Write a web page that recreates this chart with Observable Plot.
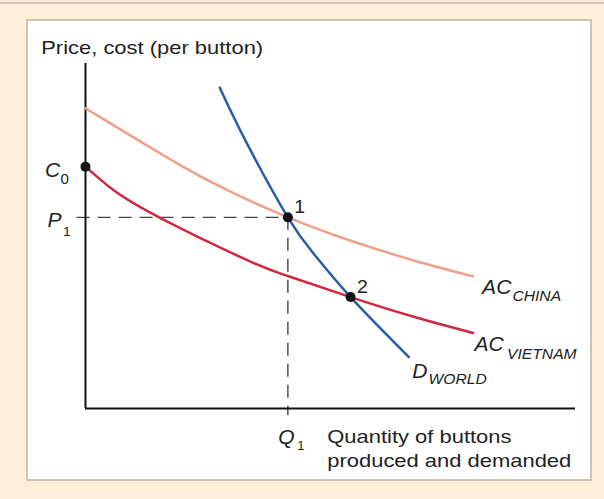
<!DOCTYPE html>
<html><head><meta charset="utf-8">
<script src="https://cdn.jsdelivr.net/npm/d3@7"></script>
<script src="https://cdn.jsdelivr.net/npm/@observablehq/plot@0.6"></script>
<style>
html,body{margin:0;padding:0;background:#fdefd9;}
#wrap{position:relative;width:604px;height:499px;overflow:hidden;}
#topline{position:absolute;left:0;top:2px;width:604px;height:2px;background:#cdc7bc;}
#panel{position:absolute;left:26px;top:19px;width:566px;height:462px;box-sizing:border-box;border:2px solid #cbc5b9;background:#fff;}
#chart{position:absolute;left:0;top:0;}
</style></head><body>
<div id="wrap"><div id="topline"></div><div id="panel"></div><div id="chart"></div></div>
<script>
// Curves (quantity, price/cost), in arbitrary 0–100 units
const chinaX   = [0, 12.6, 26.1, 41.3, 53.4, 67.0, 79.1];
const chinaY   = [87.0, 76.2, 65.3, 55.4, 49.0, 42.9, 38.3];
const vietnamX = [0, 5.7, 15.3, 33.0, 41.3, 54.1, 67.0, 79.1];
const vietnamY = [70.1, 63.3, 55.2, 43.0, 38.4, 32.3, 26.6, 21.9];
const demandX  = [27.4, 33.0, 41.3, 46.6, 54.1, 66.0];
const demandY  = [93.0, 76.7, 55.4, 44.8, 32.3, 14.9];
const pointNames = ["1", "2"];
const pointX = [41.3, 54.1];
const pointY = [55.4, 32.3];
const curveNames = ["AC", "AC", "D"];
const curveSubs = ["CHINA", "VIETNAM", "WORLD"];
const titleText = "Price, cost (per button)";
const xLabelText = "Quantity of buttons\nproduced and demanded";

const C0 = vietnamY[0], P1 = pointY[0], Q1 = pointX[0];
const pts = pointNames.map((n, i) => ({name: n, x: pointX[i], y: pointY[i]}));
const series = (X, Y) => X.map((x, i) => ({x, y: Y[i]}));
const china = series(chinaX, chinaY), vietnam = series(vietnamX, vietnamY), demand = series(demandX, demandY);
const ends = [china.at(-1), vietnam.at(-1), demand.at(-1)];

const font = "'Liberation Sans', Arial, Helvetica, sans-serif";
const ink = "#222";
const big = 19.5, sub = 14.5;
const T = (data, o) => Plot.text(data, {fontFamily: font, fill: ink, textAnchor: "start", lineAnchor: "bottom", ...o});

const svg = Plot.plot({
  width: 604, height: 499,
  marginLeft: 85, marginRight: 29, marginTop: 63, marginBottom: 91,
  style: {background: "transparent", overflow: "visible"},
  x: {domain: [0, 100], axis: null},
  y: {domain: [0, 100], axis: null},
  marks: [
    // dashed guides
    Plot.ruleY([P1], {x1: -1.7, x2: Q1, stroke: "#444", strokeWidth: 1.4, strokeDasharray: "13,8"}),
    Plot.ruleX([Q1], {y1: P1, y2: -2.1, stroke: "#444", strokeWidth: 1.4, strokeDasharray: "13,8"}),
    // axes
    Plot.ruleX([0], {y1: 0, y2: 100, stroke: "#111", strokeWidth: 2}),
    Plot.ruleY([0], {x1: 0, x2: 100, stroke: "#111", strokeWidth: 2}),
    // curves
    Plot.line(china, {x: "x", y: "y", curve: "natural", stroke: "#efa08b", strokeWidth: 2.5}),
    Plot.line(vietnam, {x: "x", y: "y", curve: "natural", stroke: "#d3263f", strokeWidth: 2.5}),
    Plot.line(demand, {x: "x", y: "y", curve: "natural", stroke: "#2c5ca6", strokeWidth: 2.5}),
    // points
    Plot.dot([{x: 0, y: C0}, ...pts], {x: "x", y: "y", r: 5, fill: "#111"}),
    T(pts, {x: "x", y: "y", text: "name", dx: 6.5, dy: -4, fontSize: 18}),
    // axis value labels
    T([{x: 0, y: C0}], {x: "x", y: "y", text: () => "C", dx: -40.5, dy: 10, fontSize: big, fontStyle: "italic"}),
    T([{x: 0, y: C0}], {x: "x", y: "y", text: () => "0", dx: -25, dy: 17, fontSize: 14}),
    T([{x: 0, y: P1}], {x: "x", y: "y", text: () => "P", dx: -38, dy: 10, fontSize: big, fontStyle: "italic"}),
    T([{x: 0, y: P1}], {x: "x", y: "y", text: () => "1", dx: -22.5, dy: 19, fontSize: 13}),
    T([{x: Q1, y: 0}], {x: "x", y: "y", text: () => "Q", dx: -9.5, dy: 35, fontSize: big, fontStyle: "italic"}),
    T([{x: Q1, y: 0}], {x: "x", y: "y", text: () => "1", dx: 9.4, dy: 41, fontSize: 12}),
    // curve labels
    T([ends[0]], {x: "x", y: "y", text: () => curveNames[0], dx: 9, dy: 17.3, fontSize: big, fontStyle: "italic"}),
    T([ends[0]], {x: "x", y: "y", text: () => curveSubs[0], dx: 39.3, dy: 24.3, fontSize: sub, fontStyle: "italic"}),
    T([ends[1]], {x: "x", y: "y", text: () => curveNames[1], dx: 1.3, dy: 17.7, fontSize: big, fontStyle: "italic"}),
    T([ends[1]], {x: "x", y: "y", text: () => curveSubs[1], dx: 34, dy: 25.7, fontSize: sub, fontStyle: "italic"}),
    T([ends[2]], {x: "x", y: "y", text: () => curveNames[2], dx: 3.4, dy: 20.6, fontSize: big, fontStyle: "italic"}),
    T([ends[2]], {x: "x", y: "y", text: () => curveSubs[2], dx: 19.7, dy: 26.6, fontSize: sub, fontStyle: "italic"}),
    // titles
    T([titleText], {frameAnchor: "top-left", text: d => d, dx: -44.3, dy: -10, fontSize: 18}),
    T([xLabelText], {x: () => Q1, y: () => 0, text: d => d, dx: 39.4, dy: 58, fontSize: 18, lineHeight: 1.28})
  ]
});

// slight horizontal stretch of the lettering, as in the original artwork
svg.querySelectorAll("text").forEach(t => {
  const s = t.textContent;
  const k = (s.startsWith("Price") || s.startsWith("Quantity")) ? 1.22 : 1.08;
  const tr = t.getAttribute("transform") || "";
  t.setAttribute("transform", tr + ` scale(${k},1)`);
});
document.getElementById("chart").appendChild(svg);
</script>
</body></html>
